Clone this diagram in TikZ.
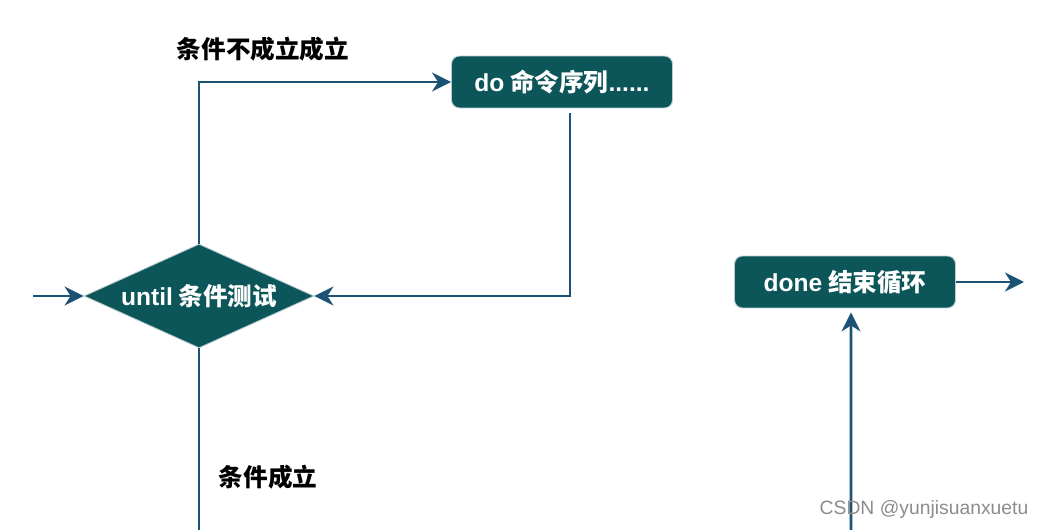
\documentclass[tikz,border=0pt]{standalone}
\usepackage{fontspec}
\setmainfont{Noto Sans CJK SC}
\newfontfamily\latin{Liberation Sans}
\usetikzlibrary{arrows.meta,shapes.geometric}
\definecolor{Box}{HTML}{0C5558}
\definecolor{Rim}{HTML}{B7CCD3}
\definecolor{Flow}{HTML}{1C5274}
\definecolor{Mark}{HTML}{8C8C8C}
\tikzset{
  >={Stealth[length=3.8mm,width=3.8mm,inset=1.2mm]},
  proc/.style={rectangle,rounded corners=1.6mm,fill=Box,draw=Rim,line width=.5pt,minimum width=4.42cm,minimum height=1.04cm,text=white,font=\fontsize{14}{16}\selectfont\bfseries},
  test/.style={proc,diamond,aspect=2.3,rounded corners=0pt,minimum width=4.6cm,minimum height=2.08cm,inner sep=0pt},
  flow/.style={->,line width=1.6pt,draw=Flow},
  lab/.style={font=\fontsize{14}{16}\selectfont\bfseries,text=black},
  wmark/.style={font=\latin\fontsize{11}{13}\selectfont,text=Mark}
}
\begin{document}
\begin{tikzpicture}[x=0.02cm,y=-0.02cm]
  \useasboundingbox (0,0) rectangle (1039,530);
  \node[test] (until) at (199,296) {{\latin until} 条件测试};
  \node[proc] (do) at (562,82) {{\latin do} 命令序列{\latin ......}};
  \node[proc] (done) at (845,282) {{\latin done} 结束循环};
  \coordinate (in) at (33,296);
  \coordinate (out) at (1024,282);
  \coordinate (yes) at (199,530);
  \coordinate (back) at (851,530);

  \draw[flow] (in) -- (until.west);
  \draw[flow] (until.north) |- (do.west);
  \draw[flow] ([xshift=0.16cm,yshift=-0.1cm]do.south) |- (until.east);
  \draw[flow,-] (until.south) -- (yes);
  \draw[flow] (done.east) -- (out);
  \draw[flow] (back) -- ([xshift=0.12cm,yshift=-0.08cm]done.south);

  \node[lab] (nolab) at (263,49) {条件不成立成立};
  \node[lab] (yeslab) at (268,477) {条件成立};
  \node[wmark] (wm) at (924,510) {CSDN @yunjisuanxuetu};
\end{tikzpicture}
\end{document}
